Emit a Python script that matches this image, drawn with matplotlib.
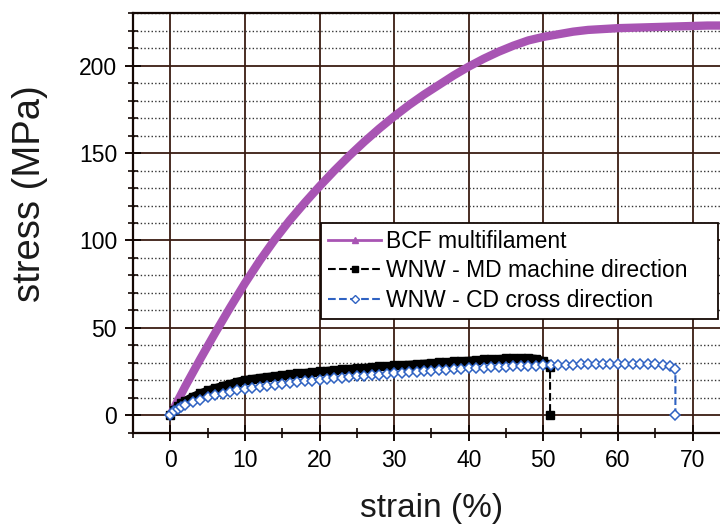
import matplotlib
matplotlib.use('Agg')
import matplotlib.pyplot as plt
from matplotlib.lines import Line2D
from matplotlib.ticker import MultipleLocator

plt.rcParams['font.family'] = ['Liberation Sans', 'DejaVu Sans']

# BCF multifilament
bcf_strain = [0, 2, 4, 6, 8, 10, 12, 14, 16, 18, 20, 22, 24, 26, 28, 30, 32, 34, 36, 38,
              40, 42, 44, 46, 48, 50, 52, 54, 56, 58, 60, 64, 68, 72, 76]
bcf_stress = [0, 16.5, 32, 47, 61.5, 75.5, 88.5, 100.5, 111.5, 121.5, 131, 140, 148.5, 156.5,
              164, 171, 177.5, 183.5, 189, 194.5, 199.5, 204, 208, 211.5, 214.5, 216.5, 218,
              219.5, 220.5, 221, 221.5, 222, 222.5, 223, 223]

# WNW - MD machine direction
md_strain = [0, 0.5, 1, 1.5, 2, 3, 4, 5, 6, 7, 8, 9, 10, 11, 12, 13, 14, 15, 16, 17, 18, 19,
             20, 21, 22, 23, 24, 25, 26, 27, 28, 29, 30, 31, 32, 33, 34, 35, 36, 37, 38, 39,
             40, 41, 42, 43, 44, 45, 46, 47, 48, 49, 50, 50.5, 50.9, 50.9]
md_stress = [0, 3.2, 5.3, 7.0, 8.4, 10.7, 12.6, 14.2, 15.6, 16.9, 18.0, 19.3, 20.3, 20.9,
             21.5, 22.0, 22.5, 23.0, 23.5, 23.9, 24.3, 24.7, 25.1, 25.5, 25.9, 26.2, 26.6,
             26.9, 27.2, 27.6, 27.9, 28.2, 28.5, 28.8, 29.0, 29.3, 29.6, 29.9, 30.2, 30.5,
             30.8, 31.1, 31.3, 31.6, 31.9, 32.1, 32.3, 32.5, 32.7, 32.8, 32.8, 32.4, 31.2,
             29.5, 27.5, 0]

# WNW - CD cross direction
cd_strain = [0, 0.5, 1, 1.5, 2, 3, 4, 5, 6, 7, 8, 9, 10, 11, 12, 13, 14, 15, 16, 17, 18, 19,
             20, 21, 22, 23, 24, 25, 26, 27, 28, 29, 30, 31, 32, 33, 34, 35, 36, 37, 38, 39,
             40, 41, 42, 43, 44, 45, 46, 47, 48, 49, 50, 51, 52, 53, 54, 55, 56, 57, 58, 59,
             60, 61, 62, 63, 64, 65, 66, 67, 67.7, 67.7]
cd_stress = [0, 2.2, 3.6, 4.8, 5.8, 7.5, 9.0, 10.3, 11.4, 12.4, 13.3, 14.2, 15.0, 15.6, 16.2,
             16.8, 17.4, 17.9, 18.4, 18.9, 19.4, 19.8, 20.3, 20.7, 21.1, 21.5, 21.9, 22.3,
             22.6, 23.0, 23.3, 23.7, 24.0, 24.3, 24.6, 24.9, 25.2, 25.5, 25.8, 26.0, 26.3,
             26.5, 26.8, 27.0, 27.2, 27.4, 27.6, 27.8, 28.0, 28.1, 28.3, 28.4, 28.6, 28.7,
             28.8, 28.9, 29.0, 29.1, 29.2, 29.2, 29.3, 29.3, 29.4, 29.4, 29.4, 29.4, 29.3,
             29.2, 28.9, 28.2, 26.5, 0]

purple = '#a854b3'
blue = '#2f62c2'
grid_dark = '#3a1c12'

fig = plt.figure(figsize=(7.2, 5.24), dpi=100)
ax = fig.add_axes([0.1847, 0.1742, 0.829, 0.8004])

ax.set_xlim(-5, 75)
ax.set_ylim(-10, 230)
ax.xaxis.set_major_locator(MultipleLocator(10))
ax.xaxis.set_minor_locator(MultipleLocator(5))
ax.yaxis.set_major_locator(MultipleLocator(50))
ax.yaxis.set_minor_locator(MultipleLocator(10))

# grid: solid at major ticks, dotted at minor y ticks
ax.grid(True, which='major', color=grid_dark, lw=1.3, ls='-')
ax.grid(True, which='minor', axis='y', color='#333333', lw=1.0, ls=(0, (1, 1.6)))
ax.set_axisbelow(True)

ax.plot(bcf_strain, bcf_stress, color=purple, lw=6, solid_capstyle='round', zorder=3)
# thick band of the dense MD samples, then the dashed series on top
ax.plot(md_strain[:-1], md_stress[:-1], color='black', lw=5.5, solid_capstyle='butt', zorder=4)
ax.plot(md_strain, md_stress, color='black', ls='--', lw=1.5, marker='s', ms=6,
        mfc='black', mec='black', zorder=4)
ax.plot(cd_strain, cd_stress, color=blue, ls='--', lw=1.5, marker='D', ms=5.2,
        mfc='white', mec=blue, mew=1.1, zorder=5)

for s in ax.spines.values():
    s.set_color('#140804')
    s.set_linewidth(1.6)

ax.tick_params(which='major', direction='inout', length=11, width=1.4, colors='#140804',
               labelsize=16.5, pad=6, labelcolor='black')
ax.tick_params(which='minor', direction='inout', length=6.5, width=1.2, colors='#140804')

ax.set_xlabel('strain (%)', fontsize=24, color='#1a1a1a')
ax.set_ylabel('stress (MPa)', fontsize=27.5, color='#1a1a1a')
ax.xaxis.set_label_coords(0.5, -0.143)
ax.yaxis.set_label_coords(-0.143, 0.57)

handles = [
    Line2D([], [], color=purple, lw=2, marker='^', ms=5),
    Line2D([], [], color='black', lw=1.5, ls='--', marker='s', ms=5),
    Line2D([], [], color=blue, lw=1.5, ls='--', marker='D', ms=4.5, mfc='white', mec=blue),
]
labels = ['BCF multifilament', 'WNW - MD machine direction', 'WNW - CD cross direction']
leg = fig.legend(handles, labels, loc='upper left', mode='expand',
                 bbox_to_anchor=(0.4458, 0.3931, 0.5514, 0.1819),
                 fontsize=16.5, frameon=True, fancybox=False, framealpha=1,
                 edgecolor='#140804', borderpad=0.32, labelspacing=0.28,
                 handlelength=2.3, handletextpad=0.2, borderaxespad=0, numpoints=1)
leg.get_frame().set_linewidth(1.3)

fig.savefig('out.png', dpi=100)
